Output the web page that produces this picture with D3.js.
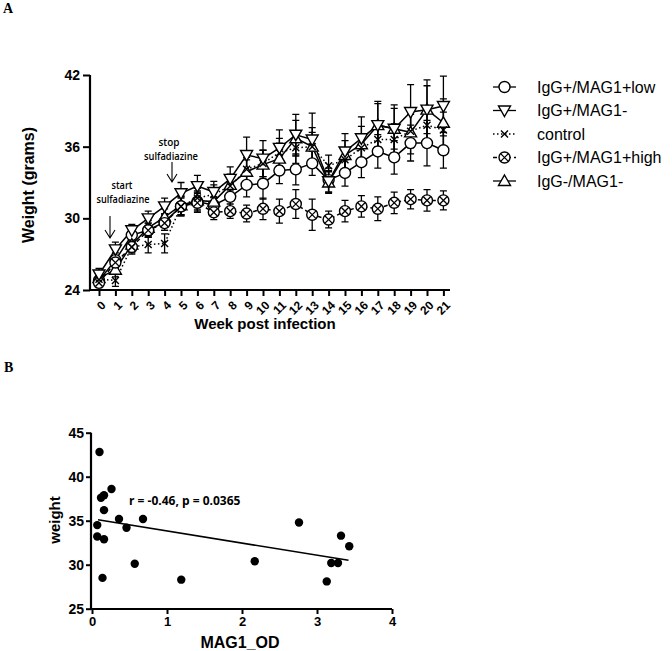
<!DOCTYPE html>
<html>
<head>
<meta charset="utf-8">
<script src="https://cdn.jsdelivr.net/npm/d3@7"></script>
<style>
  html, body { margin: 0; padding: 0; background: #fff; }
  svg { display: block; }
  text { font-family: "Liberation Sans", Arial, sans-serif; fill: #000; }
</style>
</head>
<body>
<svg id="chart" width="672" height="651"></svg>
<script>
// ---------- Panel A data ----------
const weeks = d3.range(0, 22);
const weekTicks = [0,1,2,3,4,5,6,7,8,9,10,11,12,13,14,15,16,17,18,19,20,21];
const weightTicksA = [24, 30, 36, 42];

const seriesNames = ["IgG+/MAG1+low", "IgG+/MAG1-", "control", "IgG+/MAG1+high", "IgG-/MAG1-"];

const lowMean  = [24.8,26.5,28.6,29.0,29.7,31.0,31.4,31.1,31.8,32.8,32.9,34.0,34.1,34.6,33.2,33.8,34.7,35.6,35.1,36.3,36.3,35.7];
const lowErr   = [0.4,0.6,0.6,0.6,0.7,0.8,0.8,0.7,0.9,1.0,1.3,1.1,1.3,1.0,1.0,1.1,1.3,1.4,1.4,1.5,1.9,1.5];

const negMean  = [25.3,27.4,29.0,30.0,31.0,32.1,32.7,32.2,33.3,35.3,35.0,35.9,37.0,36.6,33.1,35.6,36.7,37.8,37.5,38.9,39.1,39.4];
const negErr   = [0.5,0.6,0.5,0.6,0.7,0.9,0.9,0.9,1.0,1.5,1.5,1.5,1.7,2.2,0.9,1.5,1.8,2.0,2.0,2.3,2.5,2.5];

const ctrlMean = [24.9,24.8,27.6,27.8,27.9,31.0,31.7,32.0,32.7,34.1,34.6,35.5,35.9,36.0,34.4,34.9,35.9,36.6,36.6,37.3,37.8,37.4];
const ctrlErr  = [0.4,0.5,0.6,0.7,0.8,0.8,0.8,0.8,0.9,1.0,1.1,1.2,1.3,1.2,0.9,1.0,1.2,1.3,1.3,1.4,1.5,1.5];

const highMean = [24.6,26.3,27.6,29.0,29.6,31.0,31.3,30.5,30.6,30.4,30.8,30.6,31.2,30.3,29.9,30.6,31.0,30.8,31.3,31.6,31.5,31.5];
const highErr  = [0.4,0.5,0.5,0.6,0.6,0.7,0.8,0.6,0.6,0.7,0.9,1.0,1.2,1.3,0.7,0.9,0.9,1.0,0.9,0.8,0.9,0.8];

const dnMean   = [25.0,25.7,27.8,29.2,30.1,31.1,31.5,31.4,32.8,33.9,34.5,35.0,36.7,36.0,33.0,35.3,36.2,37.8,37.5,37.2,39.1,38.0];
const dnErr    = [0.4,0.6,0.6,0.6,0.7,0.8,0.8,0.8,0.9,1.0,1.2,1.3,1.5,1.6,0.9,1.2,1.5,1.8,1.7,1.8,2.0,2.0];

// ---------- Panel B data ----------
const magOD   = [0.10,0.26,0.16,0.12,0.16,0.07,0.36,0.68,0.46,0.07,0.16,0.57,0.14,1.19,2.17,2.76,3.13,3.19,3.28,3.32,3.43];
const weightB = [42.8,38.6,37.9,37.6,36.2,34.5,35.2,35.2,34.2,33.2,32.9,30.1,28.5,28.3,30.4,34.8,28.1,30.2,30.2,33.3,32.1];
const fitX = [0.08, 3.42];
const fitY = [35.1, 30.5];
const xTicksB = [0, 1, 2, 3, 4];
const yTicksB = [25, 30, 35, 40, 45];

// ---------- Drawing ----------
const svg = d3.select("#chart");

// Panel labels
svg.append("text").attr("x", 3).attr("y", 13).text("A")
  .style("font-family", "'Liberation Serif', 'Times New Roman', serif").style("font-weight", "bold").style("font-size", "14px");
svg.append("text").attr("x", 4).attr("y", 372).text("B")
  .style("font-family", "'Liberation Serif', 'Times New Roman', serif").style("font-weight", "bold").style("font-size", "14px");

// ----- Panel A -----
const xA = d3.scaleLinear().domain([0, 21]).range([99, 443.4]);
const yA = d3.scaleLinear().domain([24, 42]).range([290, 75]);
const gA = svg.append("g");

// axes
const yAxisA = d3.axisLeft(yA).tickValues(weightTicksA).tickSize(7).tickPadding(3).tickSizeOuter(0);
const gyA = gA.append("g").attr("transform", "translate(90,0)").call(yAxisA);
gyA.select(".domain").attr("d", "M0,75V290").attr("stroke-width", 2.2);
gyA.selectAll(".tick line").attr("stroke-width", 2);
gyA.selectAll(".tick text").style("font-size", "14px").style("font-weight", "bold");

const xAxisA = d3.axisBottom(xA).tickValues(weekTicks).tickSize(6).tickSizeOuter(0).tickFormat(d3.format("d"));
const gxA = gA.append("g").attr("transform", "translate(0,290)").call(xAxisA);
gxA.select(".domain").attr("d", "M89,0H450").attr("stroke-width", 2.2);
gxA.selectAll(".tick line").attr("stroke-width", 2);
gxA.selectAll(".tick text")
  .style("font-size", "12px").style("font-weight", "bold")
  .attr("text-anchor", "end")
  .attr("y", 0).attr("dy", "0.35em")
  .attr("transform", "translate(4,13) rotate(-45)");

gA.append("text").attr("x", 265).attr("y", 329).attr("text-anchor", "middle")
  .style("font-size", "15px").style("font-weight", "bold").text("Week post infection");
gA.append("text").attr("transform", "translate(34,185) rotate(-90)").attr("text-anchor", "middle")
  .style("font-size", "16px").style("font-weight", "bold").text("Weight (grams)");

// series definitions
const series = [
  { name: seriesNames[0], mean: lowMean,  err: lowErr,  shape: "circle",  dash: null },
  { name: seriesNames[4], mean: dnMean,   err: dnErr,   shape: "tri-up",  dash: null },
  { name: seriesNames[3], mean: highMean, err: highErr, shape: "xcircle", dash: "4,3" },
  { name: seriesNames[2], mean: ctrlMean, err: ctrlErr, shape: "cross",   dash: "1.5,2.5" },
  { name: seriesNames[1], mean: negMean,  err: negErr,  shape: "tri-down",dash: null }
];

function drawMarker(g, shape, cx, cy) {
  const s = g.append("g").attr("transform", `translate(${cx},${cy})`);
  if (shape === "circle") {
    s.append("circle").attr("r", 5.5).attr("fill", "#fff").attr("stroke", "#000").attr("stroke-width", 1.4);
  } else if (shape === "xcircle") {
    s.append("circle").attr("r", 5.5).attr("fill", "#fff").attr("stroke", "#000").attr("stroke-width", 1.4);
    s.append("path").attr("d", "M-3.6,-3.6L3.6,3.6M-3.6,3.6L3.6,-3.6").attr("stroke", "#000").attr("stroke-width", 1.3);
  } else if (shape === "tri-up") {
    s.append("path").attr("d", "M0,-6L6,4.5L-6,4.5Z").attr("fill", "#fff").attr("stroke", "#000").attr("stroke-width", 1.4);
  } else if (shape === "tri-down") {
    s.append("path").attr("d", "M0,6L6,-4.5L-6,-4.5Z").attr("fill", "#fff").attr("stroke", "#000").attr("stroke-width", 1.4);
  } else if (shape === "cross") {
    s.append("path").attr("d", "M-3.5,-3.5L3.5,3.5M-3.5,3.5L3.5,-3.5").attr("stroke", "#000").attr("stroke-width", 1.4);
  }
}

const line = d3.line().x((d, i) => xA(weeks[i])).y(d => yA(d));

// error bars
series.forEach(s => {
  const eg = gA.append("g").attr("stroke", "#000").attr("stroke-width", 1.3).attr("fill", "none");
  s.mean.forEach((m, i) => {
    const x = xA(weeks[i]);
    const y1 = yA(m + s.err[i]), y2 = yA(m - s.err[i]);
    eg.append("path").attr("d", `M${x},${y1}V${y2}M${x - 3.5},${y1}H${x + 3.5}M${x - 3.5},${y2}H${x + 3.5}`);
  });
});
// lines
series.forEach(s => {
  gA.append("path").datum(s.mean).attr("d", line).attr("fill", "none")
    .attr("stroke", "#000").attr("stroke-width", 1.5)
    .attr("stroke-dasharray", s.dash);
});
// markers
series.forEach(s => {
  const mg = gA.append("g");
  s.mean.forEach((m, i) => drawMarker(mg, s.shape, xA(weeks[i]), yA(m)));
});

// annotations
function arrow(x, yTop, yBot) {
  gA.append("path").attr("d", `M${x},${yTop}V${yBot}M${x - 5},${yBot - 8}L${x},${yBot}L${x + 5},${yBot - 8}`)
    .attr("fill", "none").attr("stroke", "#000").attr("stroke-width", 1.1);
}
function ann(x, y, t, w) {
  gA.append("text").attr("x", x).attr("y", y).attr("text-anchor", "middle")
    .attr("textLength", w).attr("lengthAdjust", "spacingAndGlyphs")
    .style("font-family", "'Open Sans', sans-serif").style("font-weight", "600").style("font-size", "11px").text(t);
}
ann(122, 189, "start", 21);
ann(123, 203, "sulfadiazine", 53);
arrow(110, 216, 238);
ann(169, 146, "stop", 21);
ann(171, 160, "sulfadiazine", 54);
arrow(172, 162, 182);

// legend
const legendOrder = [
  { name: seriesNames[0], shape: "circle", dash: null },
  { name: seriesNames[1], shape: "tri-down", dash: null },
  { name: seriesNames[2], shape: "cross", dash: "1.5,2.5" },
  { name: seriesNames[3], shape: "xcircle", dash: "4,3" },
  { name: seriesNames[4], shape: "tri-up", dash: null }
];
const lg = svg.append("g");
legendOrder.forEach((d, i) => {
  const y = 87 + i * 23.5;
  lg.append("path").attr("d", `M493,${y}H516`).attr("stroke", "#000").attr("stroke-width", 1.3)
    .attr("stroke-dasharray", d.dash);
  drawMarker(lg, d.shape, 504.5, y);
  lg.append("text").attr("x", 537).attr("y", y).attr("dy", "0.35em")
    .style("font-size", "16px").text(d.name);
});

// ----- Panel B -----
const xB = d3.scaleLinear().domain([0, 4]).range([92, 392]);
const yB = d3.scaleLinear().domain([25, 45]).range([608.7, 432.7]);
const gB = svg.append("g");

const gyB = gB.append("g").attr("transform", "translate(91,0)")
  .call(d3.axisLeft(yB).tickValues(yTicksB).tickSize(5).tickPadding(2).tickSizeOuter(0).tickFormat(d3.format("d")));
gyB.select(".domain").attr("d", "M0,432.7V610").attr("stroke-width", 2.2);
gyB.selectAll(".tick line").attr("stroke-width", 2);
gyB.selectAll(".tick text").style("font-size", "14px").style("font-weight", "bold");

const gxB = gB.append("g").attr("transform", "translate(0,609)")
  .call(d3.axisBottom(xB).tickValues(xTicksB).tickSize(5).tickPadding(3).tickSizeOuter(0).tickFormat(d3.format("d")));
gxB.select(".domain").attr("d", "M90,0H392").attr("stroke-width", 2.2);
gxB.selectAll(".tick line").attr("stroke-width", 2);
gxB.selectAll(".tick text").style("font-size", "13px").style("font-weight", "bold");

gB.append("text").attr("x", 240).attr("y", 648).attr("text-anchor", "middle")
  .style("font-size", "16px").style("font-weight", "bold").text("MAG1_OD");
gB.append("text").attr("transform", "translate(60,520) rotate(-90)").attr("text-anchor", "middle")
  .style("font-size", "15px").style("font-weight", "bold").text("weight");

gB.append("path").datum(fitX.map((x, i) => [x, fitY[i]]))
  .attr("d", d3.line().x(d => xB(d[0])).y(d => yB(d[1])))
  .attr("stroke", "#000").attr("stroke-width", 1.6).attr("fill", "none");

gB.selectAll("circle.pt").data(magOD).enter().append("circle").attr("class", "pt")
  .attr("cx", d => xB(d)).attr("cy", (d, i) => yB(weightB[i])).attr("r", 4.2).attr("fill", "#000");

gB.append("text").attr("x", 129).attr("y", 505)
  .style("font-family", "'Open Sans', sans-serif").style("font-weight", "bold").style("font-size", "12px")
  .text("r = -0.46, p = 0.0365");
</script>
</body>
</html>
